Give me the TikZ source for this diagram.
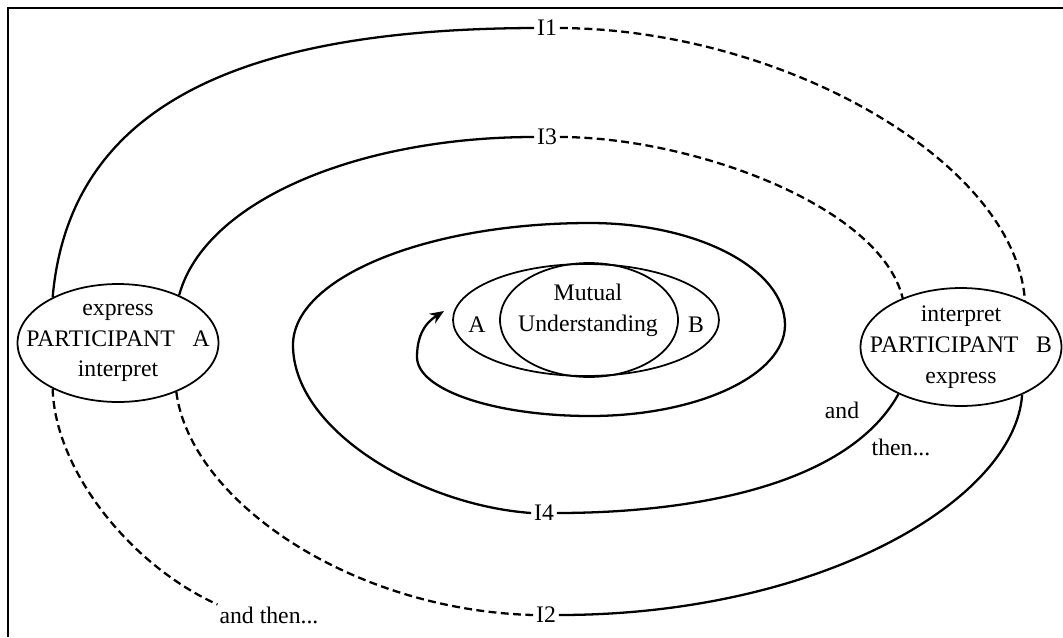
\documentclass[tikz,border=0pt]{standalone}
\usepackage{fontspec}
\setmainfont{Liberation Serif}
\usetikzlibrary{arrows.meta,shapes.geometric}

\begin{document}
\begin{tikzpicture}[x=0.02cm, y=-0.02cm,
    party/.style={draw, ellipse, line width=1pt, minimum width=4.02cm, minimum height=2.36cm, inner sep=0pt},
    words/.style={font=\fontsize{13.5}{17.6}\selectfont, align=center, inner sep=1pt},
    mu/.style={draw, ellipse, line width=1pt, inner sep=0pt},
    turn/.style={font=\fontsize{13.5}{16}\selectfont, inner sep=1.5pt},
    note/.style={font=\fontsize{13.5}{16}\selectfont, inner sep=1pt},
    say/.style={line width=1.3pt},
    hear/.style={line width=1.3pt, dash pattern=on 4.5pt off 2.5pt}
]
\useasboundingbox (0,0) rectangle (1063,637);
\draw[line width=1.2pt] (8,637) -- (8,8) -- (1063,8);

% the two participants
\node[party] (pa) at (118,343) {};
\node[words] (pa-text) at (pa) {express\\PARTICIPANT\hspace{.75em}A\\interpret};
\node[party] (pb) at (961,347) {};
\node[words] (pb-text) at (pb) {interpret\\PARTICIPANT\hspace{.75em}B\\express};

% mutual understanding
\node[mu, minimum width=5.32cm, minimum height=2.24cm] (mu-out) at (586,320) {};
\node[mu, minimum width=3.56cm, minimum height=2.28cm] (mu-in) at (589,320) {};
\node[words] (mu-text) at (588,310) {Mutual\\Understanding};
\node[words] (mu-a) at (477,325) {A};
\node[words] (mu-b) at (696,325) {B};

% turn labels
\node[turn] (i1) at (547,28) {I1};
\node[turn] (i3) at (547,137) {I3};
\node[turn] (i4) at (544,513) {I4};
\node[turn] (i2) at (546,615) {I2};

\node[note] (then-a) at (269,615) {and then...};
\node[note] (and-b) at (842,410) {and};
\node[note] (then-b) at (901,447) {then...};
\coordinate (tip) at (444,311);

% A expresses, B interprets
\draw[say] (pa.145) .. controls (70,100) and (250,29) .. (i1.west);
\draw[hear] (i1.east) .. controls (780,29) and (1015,160) .. (pb.36);
\draw[say] (pa.38) .. controls (205,200) and (360,137) .. (i3.west);
\draw[hear] (i3.east) .. controls (690,137) and (880,205) .. (pb.140);
% B expresses, A interprets
\draw[say] (pb.322) .. controls (1015,500) and (820,615) .. (i2.east);
\draw[hear] (pa.320) .. controls (190,500) and (350,610) .. (i2.west);
\draw[hear] (pa.215) .. controls (55,470) and (130,565) .. (then-a.north west);
\draw[say] (i4.east) .. controls (680,513) and (845,490) .. (pb.217);
% spiral into the middle
\draw[say, -{Stealth[length=8pt, width=6.5pt]}] (i4.west)
    .. controls (420,505) and (293,430) .. (293,345)
    .. controls (293,278) and (426,223) .. (590,223)
    .. controls (698,223) and (785,269) .. (785,325)
    .. controls (785,375) and (698,416) .. (590,416)
    .. controls (495,416) and (417,390) .. (417,357)
    .. controls (417,330) and (430,320) .. (tip);
\end{tikzpicture}
\end{document}
